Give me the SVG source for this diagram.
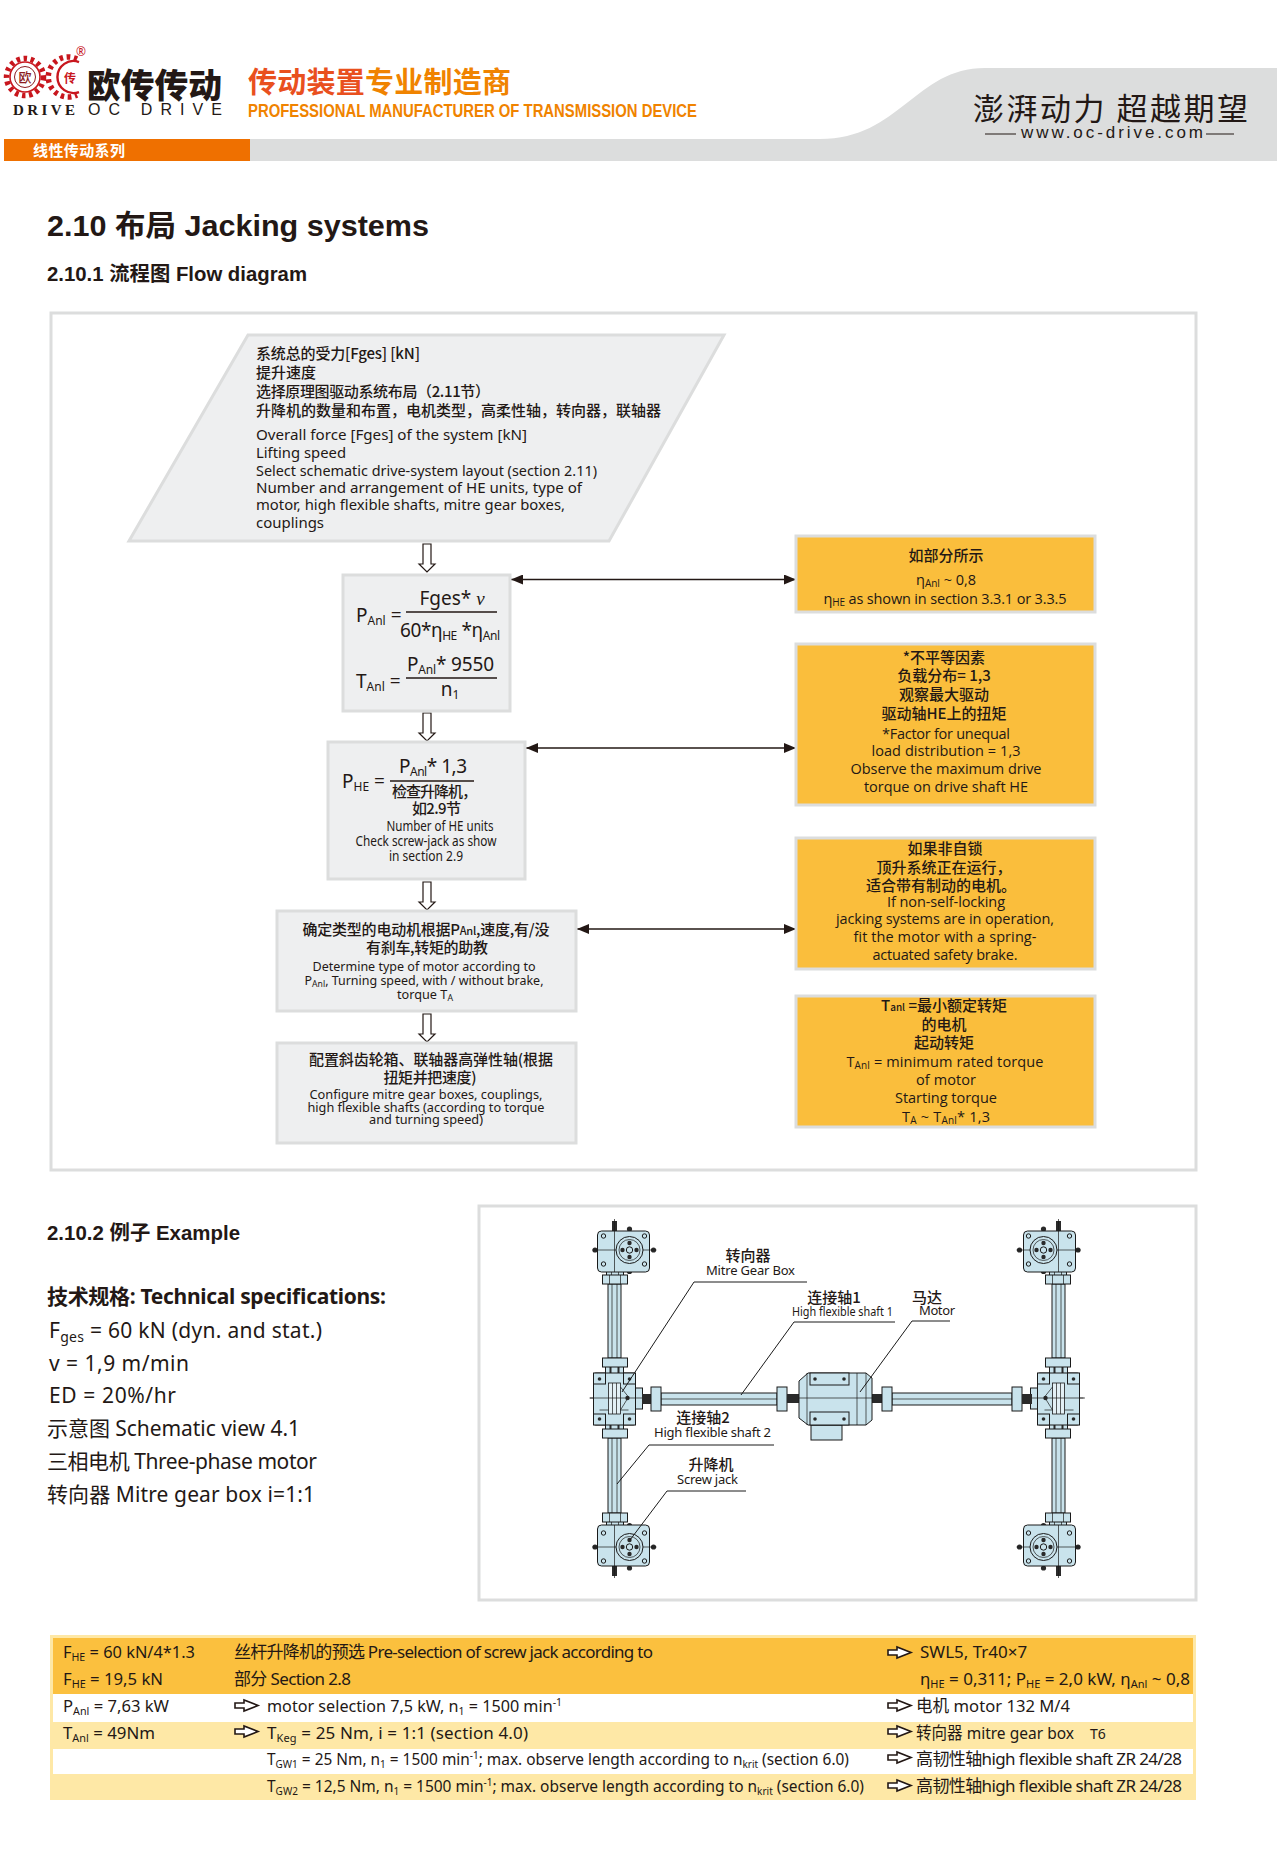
<svg xmlns="http://www.w3.org/2000/svg" width="1280" height="1850" viewBox="0 0 1280 1850">
<style>
text{font-family:"Noto Sans","Noto Sans CJK SC",sans-serif;fill:#231815;font-size:15px}
.h{font-family:"Liberation Sans","Noto Sans CJK SC",sans-serif;font-weight:700}
.c{text-anchor:middle}
.cn{font-family:"Noto Sans CJK SC",sans-serif;font-size:15px;font-weight:500}
.sm{font-size:14px}
.xs{font-size:13px}
.y{font-family:"Open Sans","Noto Sans CJK SC",sans-serif;font-size:14.5px}
.t{font-size:17px}
.sp{font-size:21px}
.f{font-size:19px}
.box{fill:#eeeff0;stroke:#dcdddd;stroke-width:3}
.ybox{fill:#fabe3c;stroke:#dcdddd;stroke-width:3}
.frame{fill:#fff;stroke:#dcdddd;stroke-width:3}
.hollow{fill:#fff;stroke:#231815;stroke-width:1.2}
.link{stroke:#231815;stroke-width:1.4;fill:none}
.m{fill:#c9e3ec;stroke:#1a1a1a;stroke-width:1}
.ml{fill:none;stroke:#1a1a1a;stroke-width:.7}
.d{fill:#2a2a2a;stroke:none}
.lead{fill:none;stroke:#1a1a1a;stroke-width:1}
.ra{fill:#fff;stroke:#231815;stroke-width:1.6}
</style>
<defs>
<marker id="ah" markerWidth="12" markerHeight="10" refX="12" refY="5" orient="auto-start-reverse" markerUnits="userSpaceOnUse"><path d="M0,0L12,5L0,10Z" fill="#231815"/></marker>
<path id="hollowDown" d="M-4,0H4V20H8L0,28L-8,20H-4Z"/>
<path id="rightArrow" d="M0,3H9V0L23,5.5L9,11V8H0Z"/>
<g id="jack">
<rect class="d" x="-2.5" y="-29" width="5" height="11"/>
<circle class="d" cx="-19.5" cy="0" r="2.6"/><circle class="d" cx="39" cy="0" r="2.6"/><circle class="d" cx="15" cy="-21" r="2.6"/><circle class="d" cx="15" cy="21.5" r="2.6"/>
<rect class="m" x="-8" y="19" width="17" height="7"/>
<path class="ml" d="M-3,19V25M4,19V25"/>
<rect class="m" x="-12" y="25" width="25" height="9"/>
<path class="ml" d="M-5,25V34M6,25V34"/>
<rect class="m" x="-17" y="-19" width="52" height="41" rx="4"/>
<circle class="m" cx="-11" cy="-14" r="2.2"/><circle class="m" cx="30" cy="-14" r="2.2"/><circle class="m" cx="-11" cy="14" r="2.2"/><circle class="m" cx="30" cy="14" r="2.2"/>
<path class="ml" d="M-22,0H42M0,-31V22"/>
<circle class="m" cx="15" cy="0" r="13.5"/><circle class="ml" cx="15" cy="0" r="10.5"/>
<circle class="d" cx="8" cy="0" r="2.2"/><circle class="d" cx="22" cy="0" r="2.2"/><circle class="d" cx="15" cy="-7" r="2.2"/><circle class="d" cx="15" cy="7" r="2.2"/>
<circle class="m" cx="15" cy="0" r="3.2"/>
</g>
<g id="mitre">
<rect class="m" x="-9" y="-32" width="18" height="8"/><rect class="m" x="-9" y="26" width="18" height="8"/>
<rect class="d" x="-5" y="-32" width="2" height="8"/><rect class="d" x="3" y="-32" width="2" height="8"/><rect class="d" x="-5" y="26" width="2" height="8"/><rect class="d" x="3" y="26" width="2" height="8"/>
<rect class="m" x="-12" y="-40" width="25" height="9"/><rect class="m" x="-12" y="31" width="25" height="9"/>
<rect class="m" x="21" y="-10" width="7" height="21"/>
<rect class="m" x="-21" y="-25" width="42" height="52" rx="2"/>
<rect class="m" x="-21" y="-25" width="12" height="11"/><rect class="m" x="9" y="-25" width="12" height="11"/><rect class="m" x="-21" y="16" width="12" height="11"/><rect class="m" x="9" y="16" width="12" height="11"/>
<circle class="d" cx="-15" cy="-19" r="1.8"/><circle class="d" cx="15" cy="-19" r="1.8"/><circle class="d" cx="-15" cy="21" r="1.8"/><circle class="d" cx="15" cy="21" r="1.8"/>
<rect x="-6" y="-15" width="12" height="31" fill="#e3f0f5" stroke="#1a1a1a" stroke-width=".8"/>
<path class="ml" d="M-2,-15V16M2,-15V16M-15,12H-6M6,-11L14,-1L6,12H14"/>
<circle class="d" cx="13" cy="0" r="2.2"/>
<path class="ml" d="M-25,0H30"/>
</g>
</defs>

<g id="header">
<path d="M250,139H820C900,139 915,68 985,68H1277V161H250Z" fill="#dcdddd"/>
<rect x="4" y="139" width="246" height="22" fill="#ef7000"/>
<text class="cn" x="33" y="156" style="fill:#fff;font-size:15px;font-weight:700" textLength="92">线性传动系列</text>
<circle cx="25" cy="77" r="18.5" fill="none" stroke="#c8161d" stroke-width="5.5" stroke-dasharray="3.5 3.6"/>
<circle cx="25" cy="77" r="15" fill="#fff" stroke="#c8161d" stroke-width="1.6"/>
<circle cx="25" cy="77" r="10.5" fill="none" stroke="#8c1c20" stroke-width="1"/>
<path d="M77,59A20,20 0 1 0 77,95" fill="none" stroke="#c8161d" stroke-width="5.5" stroke-dasharray="3.5 3.6"/>
<path d="M79,62A16,16 0 1 0 79,92" fill="none" stroke="#c8161d" stroke-width="2.4"/>
<text class="cn c" x="25" y="82" style="font-size:13px;fill:#8c1c20">欧</text>
<text class="cn c" x="70" y="83" style="font-size:12px;fill:#c8161d;font-weight:700">传</text>
<text class="c" x="81" y="56" style="font-size:12px;fill:#c8161d">®</text>
<text class="cn" x="87" y="98" style="font-size:34px;fill:#231815;font-weight:900" textLength="135" lengthAdjust="spacingAndGlyphs">欧传传动</text>
<text x="13" y="115" style="font-family:'Liberation Serif',serif;font-size:15px;font-weight:700" textLength="62">DRIVE</text>
<text x="88" y="115" style="font-family:'Liberation Sans',sans-serif;font-size:16px" textLength="134">OC DRIVE</text>
<text class="cn" x="248" y="93" style="font-size:29px;fill:#f08300;font-weight:700" textLength="263"><tspan style="fill:#e9501e">传动装置</tspan>专业制造商</text>
<text x="248" y="117" style="font-family:'Liberation Sans',sans-serif;font-size:18px;font-weight:700;fill:#f08300" textLength="449" lengthAdjust="spacingAndGlyphs">PROFESSIONAL MANUFACTURER OF TRANSMISSION DEVICE</text>
<text class="cn" x="973" y="120" style="font-size:31px;font-weight:400" textLength="275">澎湃动力 超越期望</text>
<text x="1021" y="138" style="font-family:'Liberation Sans',sans-serif;font-size:17px" textLength="182">www.oc-drive.com</text>
<path d="M985,134H1016M1206,134H1234" stroke="#231815" stroke-width="1.2"/>
</g>

<g id="titles">
<text class="h" x="47" y="236" style="font-size:30px" textLength="382" lengthAdjust="spacingAndGlyphs">2.10 布局 Jacking systems</text>
<text class="h" x="47" y="281" style="font-size:20.5px" textLength="260" lengthAdjust="spacingAndGlyphs">2.10.1 流程图 Flow diagram</text>
</g>

<rect id="flow-frame" class="frame" x="51" y="313" width="1145" height="857"/>

<g id="connectors">
<use href="#hollowDown" class="hollow" x="427" y="544"/>
<use href="#hollowDown" class="hollow" x="427" y="713"/>
<use href="#hollowDown" class="hollow" x="427" y="882"/>
<use href="#hollowDown" class="hollow" x="427" y="1014"/>
<path class="link" d="M511,579.5H796" marker-start="url(#ah)" marker-end="url(#ah)"/>
<path class="link" d="M526,748H796" marker-start="url(#ah)" marker-end="url(#ah)"/>
<path class="link" d="M577,929H796" marker-start="url(#ah)" marker-end="url(#ah)"/>
</g>

<g id="input">
<path class="box" d="M248,335H724L609,541H129Z"/>
<text class="cn" x="256" y="359" textLength="164">系统总的受力[Fges] [kN]</text>
<text class="cn" x="256" y="378">提升速度</text>
<text class="cn" x="256" y="397" textLength="234">选择原理图驱动系统布局（2.11节）</text>
<text class="cn" x="256" y="416" textLength="405">升降机的数量和布置，电机类型，高柔性轴，转向器，联轴器</text>
<text x="256" y="440" textLength="271" lengthAdjust="spacingAndGlyphs">Overall force [Fges] of the system [kN]</text>
<text x="256" y="458" textLength="90" lengthAdjust="spacingAndGlyphs">Lifting speed</text>
<text x="256" y="476" textLength="341" lengthAdjust="spacingAndGlyphs">Select schematic drive-system layout (section 2.11)</text>
<text x="256" y="493" textLength="326" lengthAdjust="spacingAndGlyphs">Number and arrangement of HE units, type of</text>
<text x="256" y="510" textLength="309" lengthAdjust="spacingAndGlyphs">motor, high flexible shafts, mitre gear boxes,</text>
<text x="256" y="528" textLength="68" lengthAdjust="spacingAndGlyphs">couplings</text>
</g>

<g id="calc-power">
<rect class="box" x="343" y="575" width="167" height="136"/>
<text class="f" x="356" y="622">P<tspan font-size="12" dy="3">Anl</tspan><tspan dy="-3"> =</tspan></text>
<text class="f c" x="452" y="605">Fges* <tspan font-family="Liberation Serif" font-style="italic">ν</tspan></text>
<path d="M406,612H497M406,678H497" stroke="#231815" stroke-width="1.4"/>
<text class="f" x="400" y="637" textLength="100">60*<tspan>η</tspan><tspan font-size="12" dy="3">HE</tspan><tspan dy="-3"> *η</tspan><tspan font-size="12" dy="3">Anl</tspan></text>
<text class="f" x="356" y="688">T<tspan font-size="12" dy="3">Anl</tspan><tspan dy="-3"> =</tspan></text>
<text class="f" x="407" y="671" textLength="87">P<tspan font-size="12" dy="3">Anl</tspan><tspan dy="-3">* 9550</tspan></text>
<text class="f c" x="450" y="696">n<tspan font-size="12" dy="3">1</tspan></text>
</g>

<g id="check-jack">
<rect class="box" x="328" y="742" width="197" height="137"/>
<text class="f" x="342" y="788">P<tspan font-size="12" dy="3">HE</tspan><tspan dy="-3"> =</tspan></text>
<text class="f" x="399" y="773" textLength="68">P<tspan font-size="12" dy="3">Anl</tspan><tspan dy="-3">* 1,3</tspan></text>
<path d="M390,781H474" stroke="#231815" stroke-width="1.4"/>
<text class="cn" x="392" y="797" textLength="85">检查升降机，</text>
<text class="cn" x="412" y="814" textLength="49">如2.9节</text>
<text class="c sm" x="440" y="831" textLength="107" lengthAdjust="spacingAndGlyphs">Number of HE units</text>
<text class="c sm" x="426" y="846" textLength="141" lengthAdjust="spacingAndGlyphs">Check screw-jack as show</text>
<text class="c sm" x="426" y="861" textLength="74" lengthAdjust="spacingAndGlyphs">in section 2.9</text>
</g>

<g id="motor-type">
<rect class="box" x="277" y="911" width="299" height="100"/>
<text class="cn c" x="426" y="935" textLength="247">确定类型的电动机根据P<tspan font-size="11">Anl</tspan>,速度,有/没</text>
<text class="cn c" x="427" y="953" textLength="122">有刹车,转矩的助教</text>
<text class="c xs" x="424" y="971" textLength="223" lengthAdjust="spacingAndGlyphs">Determine type of motor according to</text>
<text class="c xs" x="424" y="985" textLength="239" lengthAdjust="spacingAndGlyphs">P<tspan font-size="9" dy="2">Anl</tspan><tspan dy="-2">, Turning speed, with / without brake,</tspan></text>
<text class="c xs" x="425" y="999" textLength="56" lengthAdjust="spacingAndGlyphs">torque T<tspan font-size="9" dy="2">A</tspan></text>
</g>

<g id="configure">
<rect class="box" x="277" y="1043" width="299" height="100"/>
<text class="cn c" x="431" y="1065" textLength="244">配置斜齿轮箱、联轴器高弹性轴(根据</text>
<text class="cn c" x="430" y="1083" textLength="93">扭矩并把速度)</text>
<text class="c xs" x="426" y="1099" textLength="233" lengthAdjust="spacingAndGlyphs">Configure mitre gear boxes, couplings,</text>
<text class="c xs" x="426" y="1112" textLength="237" lengthAdjust="spacingAndGlyphs">high flexible shafts (according to torque</text>
<text class="c xs" x="426" y="1124" textLength="114" lengthAdjust="spacingAndGlyphs">and turning speed)</text>
</g>

<g id="note-efficiency">
<rect class="ybox" x="796" y="536" width="299" height="76"/>
<text class="cn c" x="946" y="561">如部分所示</text>
<text class="y c" x="946" y="585">η<tspan font-size="10" dy="2">Anl</tspan><tspan dy="-2"> ~ 0,8</tspan></text>
<text class="y c" x="945" y="604" textLength="243">η<tspan font-size="10" dy="2">HE</tspan><tspan dy="-2"> as shown in section 3.3.1 or 3.3.5</tspan></text>
</g>

<g id="note-factor">
<rect class="ybox" x="796" y="644" width="299" height="161"/>
<text class="cn c" x="944" y="663">*不平等因素</text>
<text class="cn c" x="944" y="681">负载分布= 1,3</text>
<text class="cn c" x="944" y="700">观察最大驱动</text>
<text class="cn c" x="944" y="719">驱动轴HE上的扭矩</text>
<text class="y c" x="946" y="739" textLength="128">*Factor for unequal</text>
<text class="y c" x="946" y="756" textLength="149">load distribution = 1,3</text>
<text class="y c" x="946" y="774" textLength="191">Observe the maximum drive</text>
<text class="y c" x="946" y="792" textLength="164">torque on drive shaft HE</text>
</g>

<g id="note-brake">
<rect class="ybox" x="796" y="838" width="299" height="131"/>
<text class="cn c" x="945" y="854">如果非自锁</text>
<text class="cn c" x="944" y="873">顶升系统正在运行，</text>
<text class="cn c" x="941" y="891">适合带有制动的电机。</text>
<text class="y c" x="946" y="907" textLength="118">If non-self-locking</text>
<text class="y c" x="945" y="924" textLength="218">jacking systems are in operation,</text>
<text class="y c" x="945" y="942" textLength="183">fit the motor with a spring-</text>
<text class="y c" x="945" y="960" textLength="145">actuated safety brake.</text>
</g>

<g id="note-torque">
<rect class="ybox" x="796" y="996" width="299" height="131"/>
<text class="cn c" x="944" y="1011">T<tspan font-size="10">anl</tspan> =最小额定转矩</text>
<text class="cn c" x="944" y="1030">的电机</text>
<text class="cn c" x="944" y="1048">起动转矩</text>
<text class="y c" x="945" y="1067" textLength="197">T<tspan font-size="10" dy="2">Anl</tspan><tspan dy="-2"> = minimum rated torque</tspan></text>
<text class="y c" x="946" y="1085" textLength="60">of motor</text>
<text class="y c" x="946" y="1103" textLength="102">Starting torque</text>
<text class="y c" x="946" y="1122" textLength="88">T<tspan font-size="10" dy="2">A</tspan><tspan dy="-2"> ~ T</tspan><tspan font-size="10" dy="2">Anl</tspan><tspan dy="-2">* 1,3</tspan></text>
</g>

<g id="example-spec">
<text class="h" x="47" y="1240" style="font-size:20.5px" textLength="193" lengthAdjust="spacingAndGlyphs">2.10.2 例子 Example</text>
<text x="47" y="1304" style="font-size:21px;font-weight:700" textLength="339">技术规格:  Technical specifications:</text>
<text class="sp" x="49" y="1338" textLength="273">F<tspan font-size="14" dy="4">ges</tspan><tspan dy="-4"> = 60 kN (dyn. and stat.)</tspan></text>
<text class="sp" x="49" y="1371" textLength="140">v = 1,9 m/min</text>
<text class="sp" x="49" y="1403" textLength="127">ED = 20%/hr</text>
<text class="sp" x="47" y="1436" textLength="253">示意图 Schematic view 4.1</text>
<text class="sp" x="47" y="1469" textLength="270">三相电机 Three-phase motor</text>
<text class="sp" x="47" y="1502" textLength="268">转向器  Mitre gear box i=1:1</text>
</g>

<rect id="example-frame" class="frame" x="479" y="1206" width="717" height="394"/>

<g id="drive-layout">
<path d="M590,1398H1085" class="ml"/>
<rect class="m" x="608" y="1284" width="13" height="74"/><rect class="m" x="608" y="1438" width="13" height="75"/>
<rect class="m" x="1052" y="1284" width="13" height="74"/><rect class="m" x="1052" y="1438" width="13" height="75"/>
<path class="ml" d="M612,1284V1358M617,1284V1358M612,1438V1513M617,1438V1513M1056,1284V1358M1061,1284V1358M1056,1438V1513M1061,1438V1513"/>
<use href="#jack" x="614.5" y="1250"/>
<use href="#jack" transform="translate(1058.5,1250) scale(-1,1)"/>
<use href="#jack" transform="translate(614.5,1547) scale(1,-1)"/>
<use href="#jack" transform="translate(1058.5,1547) scale(-1,-1)"/>
<use href="#mitre" x="614.5" y="1398"/>
<use href="#mitre" transform="translate(1058.5,1398) scale(-1,1)"/>
<rect class="m" x="661" y="1393" width="116" height="12"/>
<rect class="m" x="892" y="1393" width="120" height="12"/>
<path class="ml" d="M661,1399H777M892,1399H1012"/>
<rect class="d" x="642" y="1394" width="10" height="10"/><rect class="m" x="651" y="1387" width="10" height="24"/>
<rect class="m" x="777" y="1387" width="10" height="24"/><rect class="d" x="787" y="1394" width="13" height="9"/>
<rect class="d" x="872" y="1394" width="11" height="9"/><rect class="m" x="882" y="1387" width="10" height="24"/>
<rect class="m" x="1012" y="1387" width="10" height="24"/><rect class="d" x="1022" y="1394" width="10" height="10"/>
<rect class="m" x="811" y="1425" width="31" height="15"/>
<path class="m" d="M799,1381L808,1373H866L872,1378V1420L866,1425H808L799,1418Z"/>
<rect class="m" x="810" y="1373" width="39" height="12"/><rect class="m" x="810" y="1412" width="39" height="13"/>
<path class="ml" d="M807,1373V1425M857,1373V1425M866,1373V1425M799,1398H872"/>
<circle class="d" cx="815" cy="1379" r="1.8"/><circle class="d" cx="844" cy="1379" r="1.8"/><circle class="d" cx="815" cy="1419" r="1.8"/><circle class="d" cx="844" cy="1419" r="1.8"/>
<path class="lead" d="M807,1282H694L622,1392M895,1322H794L741,1395M950,1321H912L860,1392M774,1445H649L617,1484M746,1491H667L630,1540"/>
<text class="cn c" x="748" y="1261">转向器</text>
<text x="706" y="1275" style="font-size:13px" textLength="89">Mitre Gear Box</text>
<text class="cn c" x="834" y="1303">连接轴1</text>
<text x="792" y="1316" style="font-size:13px" textLength="101" lengthAdjust="spacingAndGlyphs">High flexible shaft 1</text>
<text class="cn" x="912" y="1303">马达</text>
<text x="919" y="1315" style="font-size:13px" textLength="36">Motor</text>
<text class="cn c" x="703" y="1423">连接轴2</text>
<text x="654" y="1437" style="font-size:13px" textLength="117">High flexible shaft 2</text>
<text class="cn c" x="711" y="1470">升降机</text>
<text x="677" y="1484" style="font-size:13px" textLength="61">Screw jack</text>
</g>

<g id="result-table">
<rect x="50" y="1635" width="1146" height="165" fill="#fee8a6"/>
<rect x="53" y="1638" width="1140" height="56" fill="#fbc03e"/>
<rect x="53" y="1694" width="1140" height="28" fill="#fff"/>
<rect x="53" y="1749" width="1140" height="25" fill="#fff"/>
<text class="t" x="63" y="1658" textLength="132" lengthAdjust="spacingAndGlyphs">F<tspan font-size="11" dy="3">HE</tspan><tspan dy="-3"> = 60 kN/4*1.3</tspan></text>
<text class="t" x="63" y="1685" textLength="100" lengthAdjust="spacingAndGlyphs">F<tspan font-size="11" dy="3">HE</tspan><tspan dy="-3"> = 19,5 kN</tspan></text>
<text class="t" x="63" y="1712" textLength="106" lengthAdjust="spacingAndGlyphs">P<tspan font-size="11" dy="3">Anl</tspan><tspan dy="-3"> = 7,63 kW</tspan></text>
<text class="t" x="63" y="1739" textLength="92" lengthAdjust="spacingAndGlyphs">T<tspan font-size="11" dy="3">Anl</tspan><tspan dy="-3"> = 49Nm</tspan></text>
<text class="t" x="234" y="1658" textLength="419">丝杆升降机的预选  Pre-selection of screw jack according to</text>
<text class="t" x="234" y="1685" textLength="117">部分 Section 2.8</text>
<text class="t" x="267" y="1712" textLength="295" lengthAdjust="spacingAndGlyphs">motor selection 7,5 kW, n<tspan font-size="11" dy="3">1</tspan><tspan dy="-3"> = 1500 min</tspan><tspan font-size="11" dy="-6">-1</tspan></text>
<text class="t" x="267" y="1739" textLength="261">T<tspan font-size="11" dy="3">Keg</tspan><tspan dy="-3">  = 25 Nm, i = 1:1 (section 4.0)</tspan></text>
<text class="t" x="267" y="1765" textLength="582" lengthAdjust="spacingAndGlyphs">T<tspan font-size="11" dy="3">GW1</tspan><tspan dy="-3"> = 25 Nm, n</tspan><tspan font-size="11" dy="3">1</tspan><tspan dy="-3"> = 1500 min</tspan><tspan font-size="11" dy="-6">-1</tspan><tspan dy="6">; max. observe length according to n</tspan><tspan font-size="11" dy="3">krit</tspan><tspan dy="-3"> (section 6.0)</tspan></text>
<text class="t" x="267" y="1792" textLength="597" lengthAdjust="spacingAndGlyphs">T<tspan font-size="11" dy="3">GW2</tspan><tspan dy="-3"> = 12,5 Nm, n</tspan><tspan font-size="11" dy="3">1</tspan><tspan dy="-3"> = 1500 min</tspan><tspan font-size="11" dy="-6">-1</tspan><tspan dy="6">; max. observe length according to n</tspan><tspan font-size="11" dy="3">krit</tspan><tspan dy="-3"> (section 6.0)</tspan></text>
<text class="t" x="920" y="1658">SWL5, Tr40×7</text>
<text class="t" x="920" y="1685" textLength="270">η<tspan font-size="11" dy="3">HE</tspan><tspan dy="-3"> = 0,311; P</tspan><tspan font-size="11" dy="3">HE</tspan><tspan dy="-3"> = 2,0 kW, η</tspan><tspan font-size="11" dy="3">Anl</tspan><tspan dy="-3"> ~ 0,8</tspan></text>
<text class="t" x="916" y="1712" textLength="154" lengthAdjust="spacingAndGlyphs">电机  motor 132 M/4</text>
<text class="t" x="916" y="1739" textLength="158" lengthAdjust="spacingAndGlyphs">转向器 mitre gear box</text>
<text x="1090" y="1739" style="font-size:14px">T6</text>
<text class="t" x="916" y="1765" textLength="266">高韧性轴high flexible shaft ZR 24/28</text>
<text class="t" x="916" y="1792" textLength="266">高韧性轴high flexible shaft ZR 24/28</text>
<use href="#rightArrow" class="ra" x="235" y="1700"/>
<use href="#rightArrow" class="ra" x="235" y="1726"/>
<use href="#rightArrow" class="ra" x="888" y="1647"/>
<use href="#rightArrow" class="ra" x="888" y="1700"/>
<use href="#rightArrow" class="ra" x="888" y="1726"/>
<use href="#rightArrow" class="ra" x="888" y="1752"/>
<use href="#rightArrow" class="ra" x="888" y="1780"/>
</g>
</svg>
